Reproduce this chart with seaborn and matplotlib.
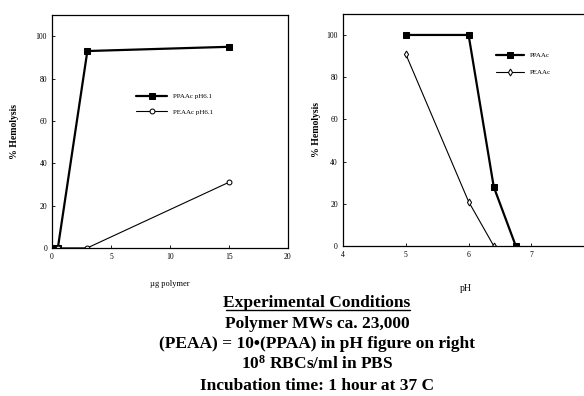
import pandas as pd
import seaborn as sns
import matplotlib.pyplot as plt
from matplotlib.lines import Line2D

# Left panel: hemolysis vs polymer amount at pH 6.1
dose_ppaa = [0, 0.5, 3, 15]
hemo_ppaa = [0, 0, 93, 95]
dose_peaa = [0.5, 3, 15]
hemo_peaa = [0, 0, 31]

# Right panel: hemolysis vs pH
ph_ppaa = [5, 6, 6.4, 6.75]
hemo_ph_ppaa = [100, 100, 28, 0]
ph_peaa = [5, 6, 6.4]
hemo_ph_peaa = [91, 21, 0]

notes = ["Experimental Conditions",
         "Polymer MWs ca. 23,000",
         "(PEAA) = 10\u2022(PPAA) in pH figure on right",
         "10$^{8}$ RBCs/ml in PBS",
         "Incubation time: 1 hour at 37 C"]

sns.set_style("ticks", {'text.color': 'black', 'axes.labelcolor': 'black',
                        'xtick.color': 'black', 'ytick.color': 'black'})
plt.rcParams['font.family'] = ['Liberation Serif', 'DejaVu Serif']
plt.rcParams['mathtext.fontset'] = 'custom'
plt.rcParams['mathtext.rm'] = 'Liberation Serif:bold'
plt.rcParams['mathtext.default'] = 'rm'
plt.rcParams['text.color'] = 'black'

df_left = pd.concat([
    pd.DataFrame({'x': dose_ppaa, 'y': hemo_ppaa, 's': 'PPAAc pH6.1'}),
    pd.DataFrame({'x': dose_peaa, 'y': hemo_peaa, 's': 'PEAAc pH6.1'})])
df_right = pd.concat([
    pd.DataFrame({'x': ph_ppaa, 'y': hemo_ph_ppaa, 's': 'PPAAc'}),
    pd.DataFrame({'x': ph_peaa, 'y': hemo_ph_peaa, 's': 'PEAAc'})])

fig = plt.figure(figsize=(5.84, 3.96), dpi=100)
ax1 = fig.add_axes([0.089, 0.374, 0.404, 0.588])
ax2 = fig.add_axes([0.587, 0.379, 0.42, 0.586])

def draw(ax, df, names, markers):
    for name, mk, lw in zip(names, markers, [1.6, 0.8]):
        sub = df[df['s'] == name]
        sns.lineplot(data=sub, x='x', y='y', ax=ax, color='black', lw=lw,
                     marker=mk, markersize=4 if mk == 's' else 3.5,
                     markerfacecolor='black' if mk == 's' else 'white',
                     markeredgecolor='black', label=name, sort=False)
    ax.set_ylim(0, 110)
    ax.set_yticks([0, 20, 40, 60, 80, 100])
    ax.tick_params(labelsize=5.5, length=2, width=0.6, direction='in',
                   colors='black')
    for sp in ax.spines.values():
        sp.set_linewidth(0.9)
        sp.set_color('black')
    ax.set_ylabel('% Hemolysis', fontsize=7, fontweight='bold')

draw(ax1, df_left, ['PPAAc pH6.1', 'PEAAc pH6.1'], ['s', 'o'])
ax1.set_xlim(0, 20)
ax1.set_xticks([0, 5, 10, 15, 20])
ax1.set_xlabel('\u00b5g polymer', fontsize=6, labelpad=14)
ax1.yaxis.set_label_coords(-0.14, 0.5)
ax1.legend(loc='upper left', bbox_to_anchor=(0.33, 0.69), frameon=False,
           fontsize=5, handlelength=4.5, labelspacing=1.4)

draw(ax2, df_right, ['PPAAc', 'PEAAc'], ['s', 'd'])
ax2.set_xlim(4, 7.9)
ax2.set_xticks([4, 5, 6, 7])
ax2.spines['right'].set_visible(False)
ax2.set_xlabel('pH', fontsize=7, labelpad=18)
ax2.legend(loc='upper left', bbox_to_anchor=(0.6, 0.86), frameon=False,
           fontsize=5, handlelength=4, labelspacing=1.6)

ys = [0.225, 0.172, 0.121, 0.068, 0.016]
for txt, y in zip(notes, ys):
    fig.text(0.543, y, txt, ha='center', va='baseline', fontsize=12.5,
             fontweight='bold', color='black')
fig.add_artist(Line2D([0.387, 0.702], [0.216, 0.216], color='black', lw=1,
                      transform=fig.transFigure))

fig.savefig('out.png', dpi=100)
